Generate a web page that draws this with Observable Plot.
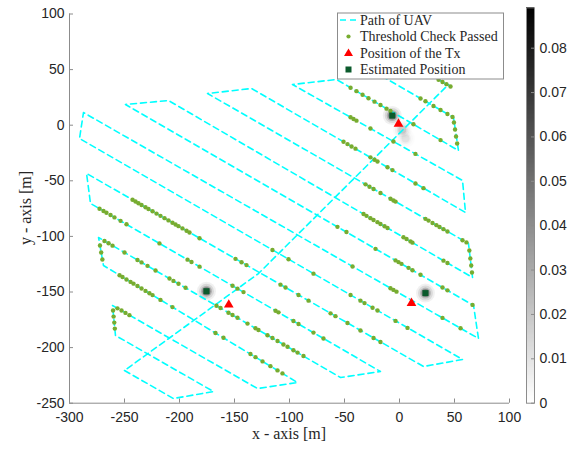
<!DOCTYPE html>
<html><head><meta charset="utf-8">
<script src="https://cdn.jsdelivr.net/npm/d3@7"></script>
<script src="https://cdn.jsdelivr.net/npm/@observablehq/plot@0.6"></script>
<style>
body{margin:0;background:#fff;}
#wrap{position:relative;width:580px;height:449px;overflow:hidden;background:#fff;}
#wrap > svg{position:absolute;left:0;top:0;}
</style></head><body><div id="wrap"></div>
<script>
// ---- data ----
const xTicks = [-300,-250,-200,-150,-100,-50,0,50,100];
const yTicks = [100,50,0,-50,-100,-150,-200,-250];
const cbTicks = [0,0.01,0.02,0.03,0.04,0.05,0.06,0.07,0.08];
const cbMax = 0.0891;
const legendLabels = ["Path of UAV","Threshold Check Passed","Position of the Tx","Estimated Position"];

const pathX = [-250,-205.5,-169.1,-258.2,-260.9,-129.1,-92.7,-269.1,-273.6,-53.6,-17.3,-280.9,-284.5,21.8,57.3,-290.9,-287.3,71.8,67.3,-249.1,-210,66.4,62.7,-174.5,-134.5,60,57.3,-97.3,-57.3,53.6,49.1,-21.8,17.3,46.4,44.5,-128.2,-250];
const pathY = [-220.6,-245.8,-239.5,-189.1,-162.1,-236.8,-231.4,-126.2,-101,-226.9,-221.5,-70.4,-43.4,-217,-210.7,-12,11.4,-191.8,-162.1,18.6,22.2,-137,-106.4,28.5,33,-78.5,-49.7,36.6,41.1,-22.8,6.9,47.4,51,34.8,36.6,-133.4,-220.6];

const passX = [-256.4,-252.7,-249.1,-245.5,
 -260.4,-259.9,-259.3,-258.8,
 -254.5,-251.8,-248.2,-244.5,-241.8,-238.2,-234.5,-230.9,-227.3,-224.5,-217.3,-206.4,-167.3,-160,-135.5,-130.9,-124.5,-117.3,-110.9,-106.4,
 -272.3,-271.2,-270.1,
 -268.2,-264.5,-260.9,-250,-238.2,-234.5,-229.1,-221.8,-209.1,-205.5,-200.9,-194.5,-166.4,-162.7,-155.5,-151.8,-147.3,-138.2,-130.9,-128.2,-120,-115.5,-110.9,-105.5,-101.8,-96.4,-92.7,-87.3,
 -272.7,-269.1,-266.4,-262.7,-259.1,-253.6,-248.2,-218.2,-192.7,-189.1,-181.8,-151.8,-147.3,-141.8,-112.7,-110,-96.4,-91.8,-78.2,-69.1,
 -242.7,-240,-237.3,-234.5,-230.9,-228.2,-224.5,-220.9,-217.3,-213.6,-210,-206.4,-203.6,-200.9,-197.3,-193.6,-190.9,-181.8,-149.1,-143.6,-139.1,-108.2,-103.6,-91.8,-82.7,-62.7,-58.2,-47.3,-35.5,-23.6,-17.3,
 -115.5,-100.9,-78.2,-44.5,-35.5,-31.8,-24.5,-20,-3.6,7.3,
 -42.7,-8.2,-5.5,-2.7,39.1,55.5,
 -56.4,-48.2,-21.8,-3.6,-0.9,1.8,8.2,11.8,19.1,39.1,43.6,66.4,
 -32.7,-30,-26.4,-23.6,-20,-17.3,-13.6,-10.9,3.6,6.4,10,11.8,40,43.6,
 63.5,64.4,65.2,65.9,
 -30.9,-27.3,-23.6,-17.3,-8.2,-5.5,-3.6,23.6,26.4,30,33.6,36.4,40,43.6,57.3,60.9,
 -50.9,-47.3,-43.6,-40,-26.4,-22.7,-20,-10.9,-6.4,14.5,21.8,
 -44.5,-41.8,-39.1,-26.4,-5.5,14.5,
 -44.5,-39.1,-33.6,-28.2,-22.7,-17.3,-11.8,-8.2,12.7,37.3,
 19.1,23.6,30.9,37.3,43.6,48.2,
 49.5,50.5,51.4,52.4,
 35.5,39.1,42.7,46.4];
const passY = [-164.7,-166.7,-168.8,-170.8,
 -166.7,-172.1,-177.5,-182.9,
 -134.9,-136.5,-138.7,-140.9,-142.5,-144.6,-146.8,-149,-151.1,-152.8,-157.1,-163.6,-186.9,-191.2,-205.8,-208.6,-212.4,-216.7,-220.5,-223.2,
 -108.2,-114.5,-120.8,
 -104.1,-106.2,-108.3,-114.5,-121.2,-123.4,-126.5,-130.6,-137.9,-140,-142.6,-146.2,-162.3,-164.4,-168.6,-170.7,-173.2,-178.4,-182.6,-184.2,-188.9,-191.4,-194.1,-197.2,-199.3,-202.4,-204.5,-207.6,
 -75.1,-77.2,-78.7,-80.8,-82.9,-86,-89.1,-106.3,-120.9,-123,-127.2,-144.4,-147,-150.1,-166.8,-168.3,-176.1,-178.8,-186.5,-191.8,
 -67.1,-68.6,-70.2,-71.8,-73.8,-75.3,-77.4,-79.5,-81.5,-83.6,-85.6,-87.7,-89.3,-90.8,-92.8,-94.9,-96.5,-101.6,-120.2,-123.3,-125.8,-143.4,-146,-152.7,-157.8,-169.2,-171.7,-177.9,-184.6,-191.3,-194.9,
 -112.2,-120.5,-133.5,-152.7,-157.8,-160,-164.1,-166.7,-176,-182.3,
 -127.1,-146.6,-148.1,-149.7,-173.3,-182.6,
 -91.4,-96.1,-111.2,-121.6,-123.1,-124.7,-128.3,-130.4,-134.5,-146,-148.5,-161.6,
 -79.9,-81.5,-83.6,-85.2,-87.2,-88.8,-90.9,-92.5,-100.8,-102.4,-104.5,-105.6,-121.8,-123.9,
 -112.7,-119.9,-126.2,-132.5,
 -53.2,-55.3,-57.4,-61,-66.1,-67.7,-68.7,-84.2,-85.8,-87.9,-89.9,-91.5,-93.5,-95.6,-103.4,-105.4,
 -14.9,-17,-19.1,-21.1,-28.9,-31.1,-32.6,-37.8,-40.4,-52.4,-56.6,
 7.1,5.6,4.1,-3,-14.6,-25.8,
 33.7,30.6,27.4,24.3,21.2,18.1,14.9,12.8,0.8,-13.4,
 24,21.5,17.3,13.7,10.1,7.4,
 2.4,-3.9,-10.2,-16.5,
 40.9,38.9,36.9,34.8];

const txX = [-155.2, 10.9, -0.9];
const txY = [-161.5, -160, 1.2];
const estX = [-175.5, 23.6, -6.6];
const estY = [-149.3, -151, 8.7];
// likelihood heat-map peaks (value on colour bar scale)
const heatX = [-175.5, 23.6, -6.6, 2.5, 5.5];
const heatY = [-149.3, -151, 8.7, -4, -12];
const heatV = [0.089, 0.08, 0.089, 0.03, 0.015];

// ---- tables ----
const path = pathX.map((x,i)=>({x, y:pathY[i]}));
const pass = passX.map((x,i)=>({x, y:passY[i]}));
const tx = txX.map((x,i)=>({x, y:txY[i]}));
const est = estX.map((x,i)=>({x, y:estY[i]}));
const heat = heatX.map((x,i)=>({x, y:heatY[i], v:heatV[i]}));

const cyan = "#00ffff", green = "#77ac30", red = "#ff0000", dgreen = "#0b5a2c", axc = "#8c8c8c";
const font = "Liberation Sans, Arial, Helvetica, sans-serif";

const heatLayers = [[9.5,0.06],[7.5,0.1],[5.5,0.18],[4,0.3]].map(([r,o]) =>
  Plot.dot(heat, {x:"x", y:"y", r, fill:"#000", fillOpacity: d=>o*d.v/cbMax, stroke:null}));

const main = Plot.plot({
  width:580, height:449,
  marginLeft:69, marginRight:71, marginTop:13.5, marginBottom:46.3,
  x:{domain:[-300,100], axis:null},
  y:{domain:[-250,100], axis:null},
  style:{fontFamily:font, fontSize:"14px", color:"#262626", background:"transparent"},
  marks:[
    ...heatLayers,
    Plot.line(path, {x:"x", y:"y", stroke:cyan, strokeWidth:1.6, strokeDasharray:"6,4"}),
    Plot.dot(pass, {x:"x", y:"y", r:2.2, fill:green, stroke:null}),
    Plot.dot(tx, {x:"x", y:"y", symbol:"triangle", r:3.6, fill:red, stroke:null}),
    Plot.dot(est, {x:"x", y:"y", symbol:"square", r:3.4, fill:dgreen, stroke:null}),
    Plot.ruleX([-300], {stroke:axc}),
    Plot.ruleY([-250], {stroke:axc}),
    Plot.tickX(xTicks, {x:d=>d, insetTop:385, stroke:axc}),
    Plot.tickY(yTicks, {y:d=>d, insetRight:436, stroke:axc}),
    Plot.axisX(xTicks, {tickSize:0, tickPadding:9, tickFormat:d=>String(d), label:null}),
    Plot.axisY(yTicks, {tickSize:0, tickPadding:5, tickFormat:d=>String(d), label:null})
  ]
});

const cbLevels = d3.range(0, 300).map(i => i*cbMax/300);
const cbar = Plot.plot({
  width:80, height:449,
  marginLeft:26, marginRight:46, marginTop:7.3, marginBottom:46.3,
  x:{domain:[0,1], axis:null},
  y:{domain:[0,cbMax], axis:null},
  color:{type:"linear", domain:[0,cbMax], range:["#ffffff","#000000"]},
  style:{fontFamily:font, fontSize:"14px", color:"#262626", background:"transparent"},
  marks:[
    Plot.rect(cbLevels, {x1:d=>0, x2:d=>1, y1:d=>d, y2:d=>Math.min(cbMax, d+cbMax/250), fill:d=>d, shapeRendering:"crispEdges"}),
    Plot.frame({stroke:axc}),
    Plot.tickY(cbTicks, {y:d=>d, insetLeft:5, stroke:axc}),
    Plot.axisY(cbTicks, {anchor:"right", tickSize:0, tickPadding:5, tickFormat:d=>d===0?"0":d.toFixed(2), label:null})
  ]
});

const wrap = document.getElementById("wrap");
wrap.appendChild(main);
cbar.style.left = "500px";
wrap.appendChild(cbar);

// ---- legend and axis titles ----
const ns = "http://www.w3.org/2000/svg";
const ov = document.createElementNS(ns, "svg");
ov.setAttribute("width", 580); ov.setAttribute("height", 449);
ov.style.position = "absolute"; ov.style.left = "0"; ov.style.top = "0";
const serif = "Liberation Serif, Times New Roman, serif";
function el(tag, attrs, text){ const e=document.createElementNS(ns,tag); for(const k in attrs) e.setAttribute(k,attrs[k]); if(text!=null) e.textContent=text; ov.appendChild(e); return e; }
el("rect", {x:337.5, y:13, width:166, height:66, fill:"#fff", stroke:"#8c8c8c", "stroke-width":1});
const rowY = [20, 36.5, 53, 69.5];
el("line", {x1:340, x2:357, y1:rowY[0], y2:rowY[0], stroke:cyan, "stroke-width":1.6, "stroke-dasharray":"6,4"});
el("circle", {cx:348.5, cy:rowY[1], r:2.1, fill:green});
el("path", {d:`M348.5,${rowY[2]-4.5} L353,${rowY[2]+3} L344,${rowY[2]+3} Z`, fill:red});
el("rect", {x:345.5, y:rowY[3]-3, width:6, height:6, fill:dgreen});
legendLabels.forEach((t,i)=> el("text", {x:360, y:rowY[i]+4.8, "font-family":serif, "font-size":14, fill:"#262626"}, t));
el("text", {x:289, y:439, "text-anchor":"middle", "font-family":serif, "font-size":16, fill:"#262626"}, "x - axis [m]");
el("text", {x:0, y:0, transform:"translate(31,208) rotate(-90)", "text-anchor":"middle", "font-family":serif, "font-size":16, fill:"#262626"}, "y - axis [m]");
wrap.appendChild(ov);
</script>
</body></html>
